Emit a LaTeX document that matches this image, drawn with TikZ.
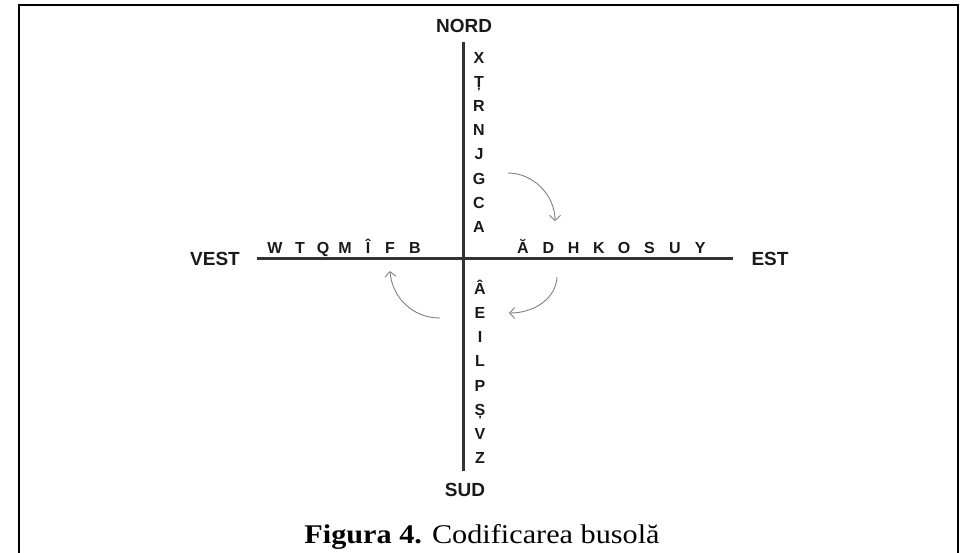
\documentclass[tikz,border=0pt]{standalone}
\usepackage{fontspec}
\usepackage{graphicx}
\setmainfont{Liberation Serif}
\newfontfamily\arialfont{Liberation Sans}
\usetikzlibrary{arrows.meta}
\definecolor{axiscol}{HTML}{333333}
\definecolor{arccol}{HTML}{808080}
\definecolor{txtcol}{HTML}{1A1A1A}
\tikzset{
  axis/.style={draw=axiscol, line width=3pt},
  dirlabel/.style={font=\arialfont\bfseries\fontsize{19}{19}\selectfont, text=txtcol, inner sep=0pt},
  letter/.style={font=\arialfont\bfseries\fontsize{16}{16}\selectfont, text=txtcol, inner sep=0pt, anchor=base},
  turn/.style={draw=arccol, line width=0.9pt, -{Straight Barb[length=5pt,width=11pt]}},
  frame/.style={draw=black, line width=1.6pt},
  caption/.style={font=\fontsize{27}{27}\selectfont, inner sep=0pt}
}
\begin{document}
\begin{tikzpicture}[x=1pt,y=-1pt]
\useasboundingbox (0,0) rectangle (960,552);
\draw[frame] (19,560) -- (19,5) -- (958,5) -- (958,560);

% axes
\coordinate (ntop) at (463,42);
\coordinate (sbot) at (463,471);
\coordinate (wend) at (257,258);
\coordinate (eend) at (733,258);
\draw[axis] (ntop) -- (sbot);
\draw[axis] (wend) -- (eend);

% direction labels
\node[dirlabel] (nord) at (464,26) {NORD};
\node[dirlabel] (sud) at (465,490) {SUD};
\node[dirlabel] (vest) at (215,259) {VEST};
\node[dirlabel] (est) at (770,259) {EST};

% north letters
\foreach \l [count=\i from 0] in {X,Ț,R,N,J,G,C,A}
  \node[letter] (n\i) at (479,63.5+24.1*\i) {\l};
% south letters
\foreach \l [count=\i from 0] in {Â,E,I,L,P,Ș,V,Z}
  \node[letter] (s\i) at (480,294.3+24.2*\i) {\l};
% east letters
\foreach \l [count=\i from 0] in {Ă,D,H,K,O,S,U,Y}
  \node[letter] (e\i) at (523+25.3*\i,253) {\l};
% west letters
\foreach \l/\x [count=\i from 0] in {W/275,T/300,Q/323,M/345,Î/368,F/390,B/415}
  \node[letter] (w\i) at (\x,253) {\l};

% turning arrows
\coordinate (a1s) at (508,173);
\coordinate (a1e) at (555,221);
\coordinate (a2s) at (557,277);
\coordinate (a2e) at (509,313);
\coordinate (a3s) at (440,318);
\coordinate (a3e) at (390,271);
\draw[turn] (a1s) .. controls (533,173) and (555,195) .. (a1e);
\draw[turn] (a2s) .. controls (556,298) and (535,313) .. (a2e);
\draw[turn] (a3s) .. controls (412,318) and (392,297) .. (a3e);

% caption
\node[caption] (cap) at (482,537) {\scalebox{1.12}[1]{\textbf{Figura 4.} Codificarea busolă}};
\end{tikzpicture}
\end{document}
